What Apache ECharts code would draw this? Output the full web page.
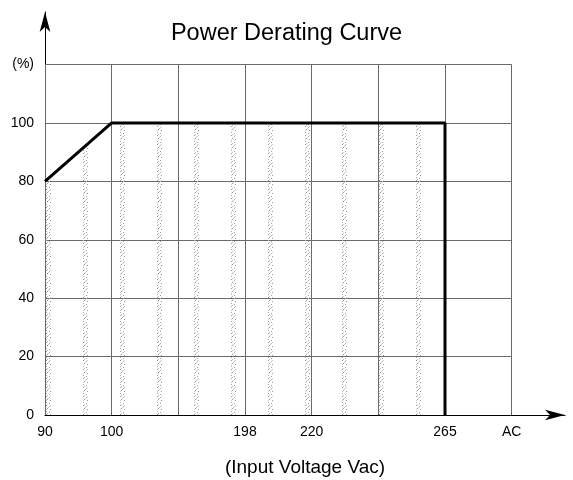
<!DOCTYPE html>
<html><head><meta charset="utf-8">
<script src="https://cdn.jsdelivr.net/npm/echarts@6/dist/echarts.min.js"></script>
<style>html,body{margin:0;padding:0;background:#fff}#c{width:573px;height:480px}</style>
</head><body><div id="c"></div>
<script>
// Data
const xTickLabels = ['90', '100', '', '198', '220', '', '265', 'AC']; // by grid column index
const curveX = [0, 1, 6, 6];       // column index: 90V, 100V, 265V, 265V
const curveY = [80, 100, 100, 0];  // load %
const yTicks = [0, 20, 40, 60, 80, 100];
const yTopLabel = '(%)';
const gridCols = [0, 1, 2, 3, 4, 5, 6, 7];
const gridRows = [20, 40, 60, 80, 100, 120];

const FONT = 'Liberation Sans, Arial, sans-serif';

// stipple pattern
const pat = document.createElement('canvas');
pat.width = 37; pat.height = 9;
const pc = pat.getContext('2d');
const dots = [[9,0,'#9a9a9a'],[12,1,'#bbb'],[10,3,'#999'],[13,4,'#999'],[9,6,'#aaa'],[12,7,'#a0a0a0'],[11,2,'#c8c8c8'],[10,8,'#c0c0c0'],[13,0,'#ccc'],[9,4,'#ccc']];
dots.forEach(d => { pc.fillStyle = d[2]; pc.fillRect(d[0], d[1], 1, 1); });

const curve = curveX.map((x, i) => [x, curveY[i]]);
const gridLines = [];
gridCols.forEach(c => gridLines.push([{coord: [c, 0]}, {coord: [c, 120]}]));
gridRows.forEach(r => gridLines.push([{coord: [0, r]}, {coord: [7, r]}]));

const chart = echarts.init(document.getElementById('c'));
chart.setOption({
  animation: false,
  title: {text: 'Power Derating Curve', left: 'center', top: 17,
    textStyle: {fontFamily: FONT, fontSize: 23.5, fontWeight: 'normal', color: '#000'}},
  grid: {left: 45, right: 8, top: 12, bottom: 65, containLabel: false, outerBoundsMode: 'none'},
  xAxis: {
    type: 'value', min: 0, max: 7.8, interval: 1,
    name: '(Input Voltage Vac)', nameLocation: 'middle', nameGap: 43,
    nameTextStyle: {fontFamily: FONT, fontSize: 19, color: '#000'},
    axisLine: {show: true, symbol: ['none', 'arrow'], symbolSize: [8, 20], lineStyle: {color: '#000', width: 1}},
    axisTick: {show: false}, splitLine: {show: false},
    axisLabel: {fontFamily: FONT, fontSize: 14, color: '#000', margin: 10,
      formatter: v => (Number.isInteger(v) && xTickLabels[v]) ? xTickLabels[v] : ''}
  },
  yAxis: {
    type: 'value', min: 0, max: 138, interval: 20,
    axisLine: {show: true, symbol: ['none', 'arrow'], symbolSize: [8, 20], lineStyle: {color: '#000', width: 1}},
    axisTick: {show: false}, splitLine: {show: false},
    axisLabel: {fontFamily: FONT, fontSize: 14, color: '#000', margin: 11,
      formatter: v => yTicks.includes(v) ? String(v) : (v === 120 ? yTopLabel : '')}
  },
  series: [{
    type: 'line', data: curve, symbol: 'none', z: 5,
    lineStyle: {color: '#000', width: 3},
    areaStyle: {color: {image: pat, repeat: 'repeat'}, opacity: 1, origin: 'start'},
    markLine: {silent: true, symbol: ['none', 'none'], label: {show: false},
      lineStyle: {color: '#6a6a6a', width: 1, type: 'solid'}, data: gridLines}
  }]
});
</script></body></html>
